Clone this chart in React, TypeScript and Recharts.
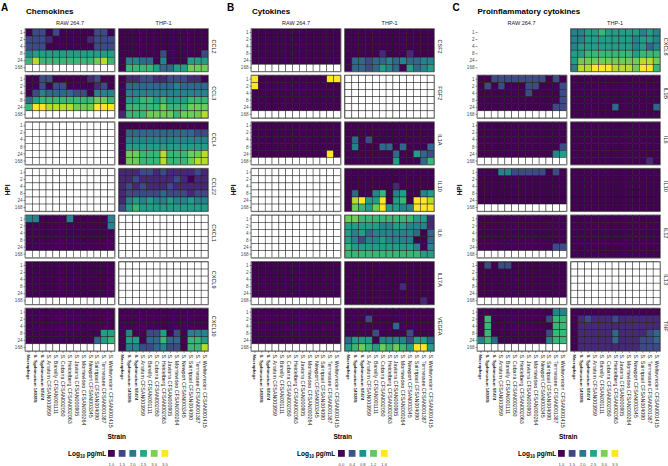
import React from "react";
import { ScatterChart, Scatter, XAxis, YAxis, ReferenceArea } from "recharts";

const STRAINS = [
  "Macrophage",
  "S. Typhimurium 14028S",
  "S. Typhimurium ST474",
  "S. Anatum CFSAN003959",
  "S. Bareilly CFSAN001111",
  "S. Cubana CFSAN002050",
  "S. Heidelberg CFSAN002063",
  "S. Javiana CFSAN000905",
  "S. Montevideo CFSAN000264",
  "S. Newport CFSAN003345",
  "S. Saintpaul CFSAN004090",
  "S. Tennessee CFSAN001387",
  "S. Weltevreden CFSAN001415",
];
const HPI = ["1", "2", "4", "8", "24", "168"];
const CELL_LINES = ["RAW 264.7", "THP-1"];

// each string is one HPI row, one char per strain:
const NA = ["............."
  , ".............", ".............", ".............", ".............", "............."];

// A - chemokines
const CHEMOKINES = ["CCL2", "CCL3", "CCL4", "CCL22", "CXCL1", "CXCL9", "CXCL10"];
const CCL2_RAW = ["0220200000220", "2221000001222", "2220000000222", "4555555555555", "6866666666786", "............."];
const CCL2_THP = ["0000000000000", "0000000000000", "0000000000000", "0000002000002", "0443304000555", "0666653355777"];
const CCL3_RAW = ["0022000001200", "0020220000120", "0243333220444", "3566666666776", "6998888777999", "............."];
const CCL3_THP = ["0112211222110", "0333333343333", "0444444444444", "0556656555666", "0666667666777", "1666777767778"];
const CCL4_THP = ["0000000000000", "0333333333322", "0444444444444", "0555555555555", "0776668666778", "0776668666788"];
const CCL22_THP = ["1112212111121", "1121111121011", "1212111211111", "1222223222122", "1454544544544", "2565555555555"];
const CXCL1_RAW = ["4400004000004", "0000000000004", "0000000000000", "0000000000000", "0000000000000", "............."];
const CXCL9_RAW = ["0000000000000", "0000000000000", "0000000000000", "0000000000000", "0000000000000", "............."];
const CXCL10_RAW = ["0000000000000", "0000000000000", "0000000000000", "0000000000055", "0000000000356", "............."];
const CXCL10_THP = ["0000000000000", "0000000000000", "0000000000000", "0400225020444", "0550336330665", "0442234220668"];

// B - cytokines
const CYTOKINES = ["CSF2", "FGF2", "IL1A", "IL10", "IL6", "IL17A", "VEGFA"];
const CSF2_RAW = ["0000000000000", "0000000000000", "0000000000000", "0000000000000", "0000000000000", "............."];
const CSF2_THP = ["0000000000000", "0000000000000", "0000000000000", "0000010001000", "0332334343344", "0332354305345"];
const FGF2_RAW = ["9000000000099", "9000000000000", "0000000000000", "0000000000000", "0000000000000", "............."];
const IL1A_RAW = ["0000000000000", "0000000000000", "0000000000000", "0000000000000", "0000000000090", "............."];
const IL1A_THP = ["0000000000000", "0000000000000", "0302000000000", "0400033030003", "0000000300532", "0000000500036"];
const IL10B_THP = ["0000000000000", "0000000000000", "0000000100000", "0300460450045", "0895590560998", "0765795544999"];
const IL6B_THP = ["7766666666551", "5555544554441", "5453444444303", "5424454444003", "6555555555404", "6666666666655"];
const IL17A_RAW = ["0000000000000", "0000000000000", "0000000000000", "0000000000000", "0000000000000", "............."];
const IL17A_THP = ["0000000000000", "0000000000000", "0000000000000", "0000000010000", "0000000000000", "0000000000010"];
const VEGFA_RAW = ["0000000000000", "0000000000000", "0000000000000", "0000000000000", "0000000000000", "............."];
const VEGFA_THP = ["0000000000000", "0002000000000", "0000000300000", "0000200002000", "3555044442553", "5676576765995"];

// C - proinflammatory cytokines
const PROINFLAMMATORY = ["CXCL8", "IL1B", "IL6", "IL10", "IL12", "IL13", "TNF"];
const CXCL8_THP = ["4455655555454", "4455555554554", "4555555554534", "5566666665666", "5777777777887", "4889998887996"];
const IL1B_RAW = ["0022222222020", "0202000220002", "0000000200002", "0000000000002", "0000000000022", "............."];
const IL1B_THP = ["0000000000000", "0000000000000", "0000000000000", "0000000000000", "0000003000003", "0000000000000"];
const IL6C_RAW = ["0000000000000", "0000000000000", "0000000000000", "0000000000002", "0000000000045", "............."];
const IL6C_THP = ["0000000000000", "0000000000000", "0000000000000", "0000000000000", "0000000000000", "0000000000010"];
const IL10C_RAW = ["0004422222020", "0000000000000", "0000000000000", "0000000000000", "0000000000000", "............."];
const IL10C_THP = ["0000000000000", "0000000000000", "0000000000000", "0000000000000", "0000000000000", "0000000000000"];
const IL12_RAW = ["0000000000000", "0000000000000", "0000000000000", "0000000000000", "0000000000022", "............."];
const IL12_THP = ["0000000000000", "0000000000000", "0000000000000", "0000000000000", "0000000000000", "0000000000000"];
const IL13_RAW = ["0202200000000", "0000000000000", "0000000000000", "0000000000000", "0000000000000", "............."];
const TNF_RAW = ["0000000000044", "0600000000266", "0600000000066", "0600000000266", "4630000000466", "............."];
const TNF_THP = ["0000000000000", "0121112111111", "0111111111111", "0111113111123", "0111113111223", "0111111111222"];

const LEGEND_A = ["1.0", "1.5", "2.0", "2.5", "3.0", "3.5"];
const LEGEND_B = ["0.0", "0.4", "0.8", "1.2", "1.6"];

const PANELS = [
  { letter: "A", title: "Chemokines", names: CHEMOKINES, lo: 1, hi: 3.5, legend: LEGEND_A, left: 0, textX: 68, boxX: 108,
    raw: [CCL2_RAW, CCL3_RAW, NA, NA, CXCL1_RAW, CXCL9_RAW, CXCL10_RAW],
    thp: [CCL2_THP, CCL3_THP, CCL4_THP, CCL22_THP, NA, NA, CXCL10_THP] },
  { letter: "B", title: "Cytokines", names: CYTOKINES, lo: 0, hi: 1.6, legend: LEGEND_B, left: 226, textX: 71, boxX: 112,
    raw: [CSF2_RAW, FGF2_RAW, IL1A_RAW, NA, NA, IL17A_RAW, VEGFA_RAW],
    thp: [CSF2_THP, NA, IL1A_THP, IL10B_THP, IL6B_THP, IL17A_THP, VEGFA_THP] },
  { letter: "C", title: "Proinflammatory cytokines", names: PROINFLAMMATORY, lo: 1, hi: 3.5, legend: LEGEND_A, left: 451.5, textX: 66.5, boxX: 106.5,
    raw: [null, IL1B_RAW, IL6C_RAW, IL10C_RAW, IL12_RAW, IL13_RAW, TNF_RAW],
    thp: [CXCL8_THP, IL1B_THP, IL6C_THP, IL10C_THP, IL12_THP, NA, TNF_THP] },
];

const VIRIDIS = ["#440154", "#482475", "#414487", "#355F8D", "#2A788E", "#21918C", "#22A884", "#44BF70", "#7AD151", "#BDDF26", "#FDE725"];
const viridis = (t: number) => {
  const p = Math.max(0, Math.min(1, t)) * 10;
  const i = Math.min(9, Math.floor(p));
  const f = p - i;
  const a = VIRIDIS[i], b = VIRIDIS[i + 1];
  const ch = (s: string, o: number) => parseInt(s.slice(o, o + 2), 16);
  const mix = (o: number) => Math.round(ch(a, o) + (ch(b, o) - ch(a, o)) * f);
  return `rgb(${mix(1)},${mix(3)},${mix(5)})`;
};

// layout
const GX = 0.66; // gap between facets, in cells
const GY = 0.61; // gap between cytokine rows, in cells
const FACET_STEP = 13 + GX;
const ROW_STEP = 6 + GY;
const X_MIN = -0.5;
const X_MAX = FACET_STEP + 12.5;
const Y_MIN = -0.5;
const Y_MAX = 6 * ROW_STEP + 5.5;
const TOP = 29;
const LEFT = 25.5;
const PLOT_W = 182.5;
const CW = PLOT_W / (X_MAX - X_MIN);
const CH = 7.05;
const PLOT_H = CH * (Y_MAX - Y_MIN);
const CHART_W = 226;
const CHART_H = 440;
const FONT = "'Liberation Sans', Arial, sans-serif";

const X_TICKS = [0, 1].flatMap((f) => STRAINS.map((_, c) => c + f * FACET_STEP));
const Y_TICKS = CHEMOKINES.flatMap((_, k) => HPI.map((_, r) => r + k * ROW_STEP));

const hpiLabel = (v: number) => {
  const k = Math.floor((v + 0.5) / ROW_STEP);
  return HPI[Math.round(v - k * ROW_STEP)];
};

const StrainTick = (props: any) => {
  const { x, y, payload } = props;
  const v = payload.value;
  const idx = v < 13 ? Math.round(v) : Math.round(v - FACET_STEP);
  const bold = idx < 3;
  return (
    <text
      x={x}
      y={y}
      transform={`rotate(90 ${x} ${y})`}
      fontSize={bold ? 4.3 : 5.3}
      fontWeight={bold ? 700 : 400}
      fill="#1a1a1a"
      textAnchor="start"
      dominantBaseline="central"
    >
      {STRAINS[idx]}
    </text>
  );
};

const buildPoints = (p: any) => {
  const pts: any[] = [];
  p.names.forEach((_: string, k: number) => {
    [p.raw[k], p.thp[k]].forEach((rows: string[] | null, f: number) => {
      if (!rows) return;
      rows.forEach((row, r) => {
        row.split("").forEach((chr, c) => {
          pts.push({
            x: c + f * FACET_STEP,
            y: r + k * ROW_STEP,
            v: chr === "." ? null : p.lo + (Number(chr) / 9) * (p.hi - p.lo),
          });
        });
      });
    });
  });
  return pts;
};

const Panel = ({ p }: { p: any }) => {
  const data = buildPoints(p);
  const pad = 0.5 / CW;
  const padY = 0.5 / CH;
  const cell = (props: any) => {
    const { cx, cy, payload } = props;
    const fill = payload.v == null ? "#ffffff" : viridis((payload.v - p.lo) / (p.hi - p.lo));
    return <rect x={cx - CW / 2} y={cy - CH / 2} width={CW} height={CH} fill={fill} stroke="#1a1a1a" strokeWidth={0.45} />;
  };
  return (
    <div style={{ position: "absolute", left: p.left, top: 0 }}>
      <ScatterChart width={CHART_W} height={CHART_H} margin={{ top: TOP, right: CHART_W - LEFT - PLOT_W, left: 0, bottom: 0 }}>
        <XAxis
          type="number"
          dataKey="x"
          domain={[X_MIN, X_MAX]}
          ticks={X_TICKS}
          interval={0}
          height={CHART_H - TOP - PLOT_H}
          axisLine={false}
          tickSize={2}
          tickMargin={1.5}
          tickLine={{ stroke: "#333", strokeWidth: 0.5 }}
          tick={<StrainTick />}
          allowDataOverflow
        />
        <YAxis
          type="number"
          dataKey="y"
          reversed
          domain={[Y_MIN, Y_MAX]}
          ticks={Y_TICKS}
          interval={0}
          width={LEFT}
          axisLine={false}
          tickSize={2}
          tickMargin={1}
          tickLine={{ stroke: "#333", strokeWidth: 0.5 }}
          tick={{ fontSize: 4.6, fill: "#4d4d4d" }}
          tickFormatter={hpiLabel}
          allowDataOverflow
        />
        {p.names.map((_: string, k: number) =>
          [0, 1].map((f) =>
            (f === 0 ? p.raw[k] : p.thp[k]) ? (
              <ReferenceArea
                key={`${k}-${f}`}
                x1={f * FACET_STEP - 0.5 - pad}
                x2={f * FACET_STEP + 12.5 + pad}
                y1={k * ROW_STEP - 0.5 - padY}
                y2={k * ROW_STEP + 5.5 + padY}
                fill="none"
                fillOpacity={0}
                stroke="#808080"
                strokeWidth={1}
                ifOverflow="visible"
              />
            ) : null
          )
        )}
        <Scatter data={data} isAnimationActive={false} shape={cell} />
      </ScatterChart>
    </div>
  );
};

const Labels = ({ p }: { p: any }) => {
  const L = p.left;
  const midY = TOP + PLOT_H / 2;
  const facetW = 13 * CW;
  return (
    <g>
      <text x={L + 1} y={10.5} fontSize={10} fontWeight={700} fill="#000">{p.letter}</text>
      <text x={L + 26} y={14} fontSize={8} fontWeight={700} fill="#000">{p.title}</text>
      {CELL_LINES.map((c, f) => (
        <text key={c} x={L + LEFT + f * FACET_STEP * CW + facetW / 2} y={24.5} fontSize={5.5} textAnchor="middle" fill="#1a1a1a">{c}</text>
      ))}
      {p.names.map((n: string, k: number) => {
        const x = L + LEFT + PLOT_W + 6;
        const y = TOP + (k * ROW_STEP + 2.5) * CH;
        return (
          <text key={n} x={x} y={y} transform={`rotate(90 ${x} ${y})`} fontSize={5.5} textAnchor="middle" dominantBaseline="central" fill="#1a1a1a">{n}</text>
        );
      })}
      <text x={L + 8} y={midY} transform={`rotate(-90 ${L + 8} ${midY})`} fontSize={6.5} fontWeight={700} textAnchor="middle" dominantBaseline="central">HPI</text>
      <text x={L + LEFT + PLOT_W / 2} y={439} fontSize={6.5} fontWeight={700} textAnchor="middle">Strain</text>
      <text x={L + p.textX} y={456} fontSize={6.5} fontWeight={700}>
        <tspan>Log</tspan>
        <tspan fontSize={4.5} dy={1.5}>10</tspan>
        <tspan dy={-1.5}> pg/mL</tspan>
      </text>
      {p.legend.map((t: string, i: number) => {
        const x = L + p.boxX + i * 10.7;
        return (
          <g key={t}>
            <rect x={x} y={450} width={6.8} height={6.8} fill={viridis(i / (p.legend.length - 1))} />
            <text x={x + 3.4} y={465.5} fontSize={4.2} textAnchor="middle" fill="#4d4d4d">{t}</text>
          </g>
        );
      })}
    </g>
  );
};

export default function App() {
  return (
    <div style={{ position: "absolute", left: 0, top: 0, width: 668, height: 466, background: "#fff", fontFamily: FONT, overflow: "hidden" }}>
      {PANELS.map((p) => (
        <Panel key={p.letter} p={p} />
      ))}
      <svg width={668} height={466} style={{ position: "absolute", left: 0, top: 0, pointerEvents: "none", fontFamily: FONT }}>
        {PANELS.map((p) => (
          <Labels key={p.letter} p={p} />
        ))}
      </svg>
    </div>
  );
}
